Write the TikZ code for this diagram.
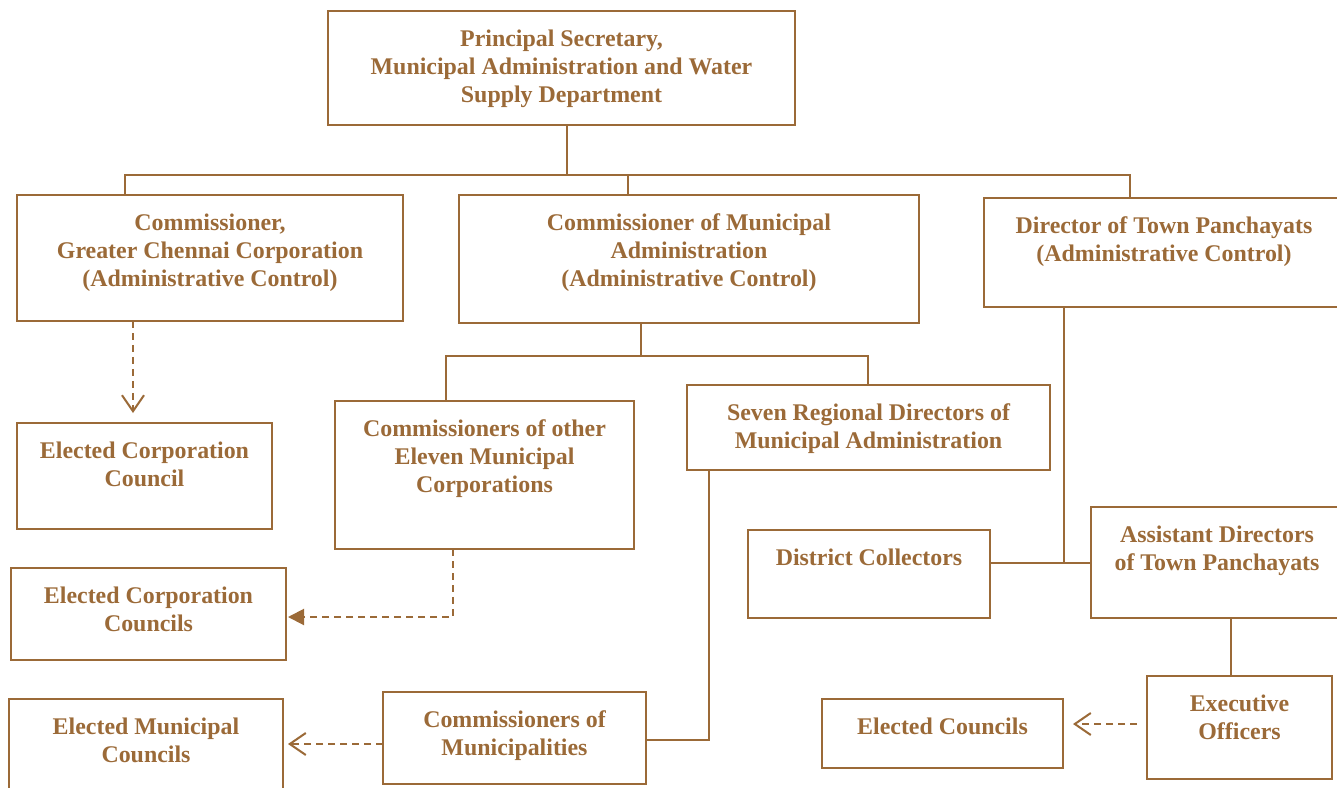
\documentclass[tikz,border=0pt]{standalone}
\usepackage{fontspec}
\setmainfont{Liberation Serif}
\usepackage{tikz}
\usetikzlibrary{arrows.meta,positioning,calc}
\definecolor{orgbrown}{RGB}{155,106,56}
\newlength{\px}
\setlength{\px}{0.02cm}
\newcommand{\orgtext}[3]{\parbox[t][#2\px][t]{#1\px}{\centering\rule{0pt}{0.71cm}#3}}
\tikzset{orgbox/.style={draw=orgbrown,line width=1.15pt,inner sep=0pt,outer sep=0pt,anchor=north west,text=orgbrown,font=\bfseries\fontsize{13.6}{15.9}\selectfont}}
\tikzset{link/.style={draw=orgbrown,line width=1.15pt}}
\tikzset{dlink/.style={link,dash pattern=on 0.14cm off 0.1cm}}

\begin{document}
\begin{tikzpicture}[x=0.02cm,y=-0.02cm]
        \useasboundingbox (0,0) rectangle (1337,787);
        % boxes
        \node[orgbox] (ps) at (328,11) {\orgtext{467}{114}{Principal Secretary,\\ Municipal Administration and Water\\ Supply Department}};
        \node[orgbox] (cgcc) at (17,195) {\orgtext{386}{126}{Commissioner,\\ Greater Chennai Corporation\\ (Administrative Control)}};
        \node[orgbox] (cma) at (459,195) {\orgtext{460}{128}{Commissioner of Municipal\\ Administration\\ (Administrative Control)}};
        \node[orgbox] (dtp) at (984,198) {\orgtext{360}{109}{Director of Town Panchayats\\ (Administrative Control)}};
        \node[orgbox] (ecc) at (17,423) {\orgtext{255}{106}{Elected Corporation\\ Council}};
        \node[orgbox] (cemc) at (335,401) {\orgtext{299}{148}{Commissioners of other\\ Eleven Municipal\\ Corporations}};
        \node[orgbox] (srd) at (687,385) {\orgtext{363}{85}{Seven Regional Directors of\\ Municipal Administration}};
        \node[orgbox] (dc) at (748,530) {\orgtext{242}{88}{District Collectors}};
        \node[orgbox] (adtp) at (1091,507) {\orgtext{252}{111}{Assistant Directors\\ of Town Panchayats}};
        \node[orgbox] (eccs) at (11,568) {\orgtext{275}{92}{Elected Corporation\\ Councils}};
        \node[orgbox] (emc) at (9,699) {\orgtext{274}{100}{Elected Municipal\\ Councils}};
        \node[orgbox] (cm) at (383,692) {\orgtext{263}{92}{Commissioners of\\ Municipalities}};
        \node[orgbox] (ec) at (822,699) {\orgtext{241}{69}{Elected Councils}};
        \node[orgbox] (eo) at (1147,676) {\orgtext{185}{103}{Executive\\ Officers}};
        \coordinate (bus) at (567,175);
        \coordinate (bustwo) at (641,356);
        \coordinate (jn) at (1064,563);
        % solid links
        \draw[link] (ps.south -| bus) -- (bus);
        \draw[link] (125,0 |- cgcc.north) |- (bus) -| (1130,0 |- dtp.north);
        \draw[link] (628,0 |- cma.north) -- (628,0 |- bus);
        \draw[link] (cma.south -| bustwo) -- (bustwo);
        \draw[link] (446,0 |- cemc.north) |- (bustwo) -| (868,0 |- srd.north);
        \draw[link] (709,0 |- srd.south) |- (cm.east |- 0,740);
        \draw[link] (dtp.south -| jn) -- (jn);
        \draw[link] (dc.east |- jn) -- (adtp.west |- jn);
        \draw[link] (1231,0 |- adtp.south) -- (1231,0 |- eo.north);
        % dashed links
        \draw[dlink,-{Straight Barb[length=0.32cm,width=0.44cm]},shorten >=0.2cm] (133,0 |- cgcc.south) -- (133,0 |- ecc.north);
        \draw[dlink,-{Triangle[length=0.32cm,width=0.32cm]},shorten >=0.04cm] (453,0 |- cemc.south) |- (eccs.east |- 0,617);
        \draw[dlink,-{Straight Barb[length=0.32cm,width=0.44cm]},shorten >=0.1cm] (cm.west |- 0,744) -- (emc.east |- 0,744);
        \draw[dlink,-{Straight Barb[length=0.32cm,width=0.44cm]},shorten <=0.2cm,shorten >=0.2cm] (eo.west |- 0,724) -- (ec.east |- 0,724);
\end{tikzpicture}
\end{document}
